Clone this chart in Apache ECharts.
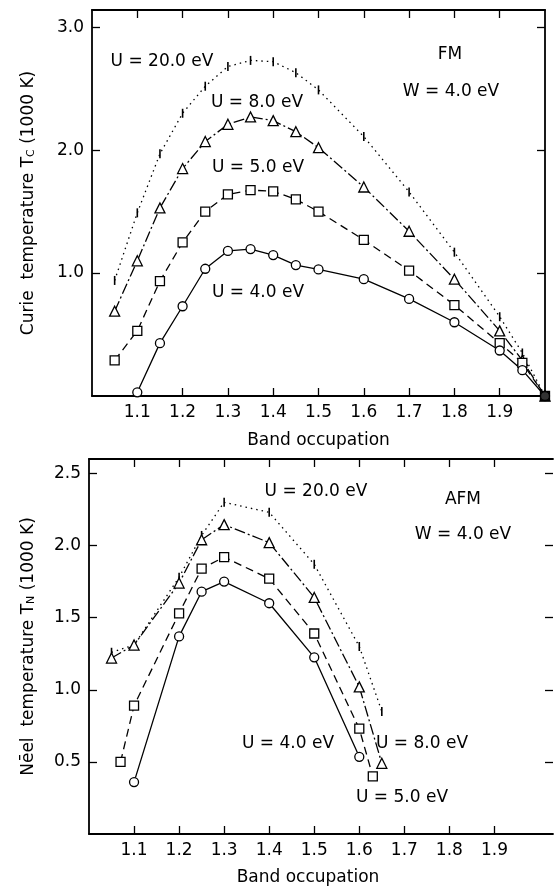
<!DOCTYPE html>
<html><head><meta charset="utf-8">
<script src="https://cdn.jsdelivr.net/npm/echarts@6/dist/echarts.min.js"></script>
<style>html,body{margin:0;padding:0;background:#fff}#c{width:556px;height:888px}</style>
</head><body><div id="c"></div>
<script>
// ---- tick labels ----
const xTickValues = [1.1, 1.2, 1.3, 1.4, 1.5, 1.6, 1.7, 1.8, 1.9];
const fmYTicks = [1.0, 2.0, 3.0];
const afmYTicks = [0.5, 1.0, 1.5, 2.0, 2.5];

// ---- FM (Curie temperature, 1000 K) ----
const fmX_U4 = [1.1, 1.15, 1.2, 1.25, 1.3, 1.35, 1.4, 1.45, 1.5, 1.6, 1.7, 1.8, 1.9, 1.95, 2.0];
const fmY_U4 = [0.03, 0.43, 0.73, 1.035, 1.18, 1.195, 1.146, 1.065, 1.03, 0.95, 0.79, 0.60, 0.37, 0.21, 0.0];
const fmX = [1.05, 1.1, 1.15, 1.2, 1.25, 1.3, 1.35, 1.4, 1.45, 1.5, 1.6, 1.7, 1.8, 1.9, 1.95, 2.0];
const fmY_U5 = [0.29, 0.53, 0.935, 1.25, 1.50, 1.64, 1.675, 1.665, 1.60, 1.50, 1.27, 1.02, 0.74, 0.43, 0.27, 0.0];
const fmY_U8 = [0.69, 1.10, 1.53, 1.85, 2.07, 2.21, 2.27, 2.24, 2.15, 2.02, 1.70, 1.34, 0.95, 0.53, 0.29, 0.0];
const fmY_U20 = [0.94, 1.49, 1.97, 2.30, 2.52, 2.68, 2.73, 2.72, 2.63, 2.49, 2.11, 1.66, 1.17, 0.645, 0.35, 0.0];
const fmEndX = [2.0];
const fmEndY = [0.0];

// ---- AFM (Neel temperature, 1000 K) ----
const afmX_U4 = [1.1, 1.2, 1.25, 1.3, 1.4, 1.5, 1.6];
const afmY_U4 = [0.36, 1.37, 1.68, 1.75, 1.60, 1.225, 0.535];
const afmX_U5 = [1.07, 1.1, 1.2, 1.25, 1.3, 1.4, 1.5, 1.6, 1.63];
const afmY_U5 = [0.50, 0.89, 1.53, 1.84, 1.92, 1.77, 1.39, 0.73, 0.40];
const afmX_U8 = [1.05, 1.1, 1.2, 1.25, 1.3, 1.4, 1.5, 1.6, 1.65];
const afmY_U8 = [1.22, 1.31, 1.74, 2.04, 2.145, 2.02, 1.64, 1.02, 0.49];
const afmX_U20 = [1.05, 1.1, 1.2, 1.25, 1.3, 1.4, 1.5, 1.6, 1.65];
const afmY_U20 = [1.26, 1.31, 1.78, 2.07, 2.30, 2.23, 1.87, 1.30, 0.85];

const FONT = 'DejaVu Sans';
const zip = (xs, ys) => xs.map((x, i) => [x, ys[i]]);
const BAR = 'path://M0,0L1,0L1,10L0,10Z';

function axisX(gridIndex, min, max, pos, labels, axisLineShow, name) {
  return {
    type: 'value', gridIndex, min, max, position: pos,
    name: name || '', nameLocation: 'middle', nameGap: 36,
    nameTextStyle: { fontFamily: FONT, fontSize: 17, color: '#000' },
    axisLine: { show: axisLineShow, onZero: false, lineStyle: { color: '#000', width: 1.8 } },
    axisTick: { show: true, inside: true, length: 8, customValues: xTickValues, lineStyle: { color: '#000', width: 1.3 } },
    axisLabel: { show: labels, customValues: xTickValues, margin: 8, fontFamily: FONT, fontSize: 17, color: '#000',
                 formatter: v => v.toFixed(1) },
    splitLine: { show: false }
  };
}
function axisY(gridIndex, min, max, pos, ticks, labels, axisLineShow, name, rich) {
  return {
    type: 'value', gridIndex, min, max, position: pos,
    name: name || '', nameLocation: 'middle', nameRotate: 90, nameGap: 52,
    nameTextStyle: { fontFamily: FONT, fontSize: 17, color: '#000', rich: rich },
    axisLine: { show: axisLineShow, onZero: false, lineStyle: { color: '#000', width: 1.8 } },
    axisTick: { show: true, inside: true, length: 8, customValues: ticks, lineStyle: { color: '#000', width: 1.3 } },
    axisLabel: { show: labels, customValues: ticks, margin: 8, fontFamily: FONT, fontSize: 17, color: '#000',
                 formatter: v => v.toFixed(1) },
    splitLine: { show: false }
  };
}
const subRich = { sub: { fontFamily: FONT, fontSize: 11, color: '#000', padding: [0, 0, 0, 0], verticalAlign: 'bottom' } };

function lineSeries(xi, yi, data, symbol, size, dash, filled) {
  return {
    type: 'line', xAxisIndex: xi, yAxisIndex: yi, data, symbol, symbolSize: size,
    showAllSymbol: true, clip: false, animation: false,
    lineStyle: { color: '#000', width: 1.3, type: dash },
    itemStyle: filled ? { color: '#000', borderColor: '#000', borderWidth: 0 }
                      : { color: '#fff', borderColor: '#000', borderWidth: 1.3 },
    z: 3
  };
}

const chart = echarts.init(document.getElementById('c'), null, { renderer: 'canvas' });
const txt = (x, y, s, fs) => ({ type: 'text', x, y, style: { text: s, fontFamily: FONT, fontSize: fs || 17, fill: '#000', align: 'center', verticalAlign: 'middle' } });

chart.setOption({
  backgroundColor: '#fff',
  animation: false,
  grid: [
    { left: 92, top: 10, width: 453, height: 386, show: false },
    { left: 89, top: 459, width: 464, height: 375, show: false }
  ],
  xAxis: [
    axisX(0, 1.0, 2.0, 'bottom', true, true, 'Band occupation'),
    axisX(0, 1.0, 2.0, 'top', false, true),
    Object.assign(axisX(1, 1.0, 2.03, 'bottom', true, true, 'Band occupation'),
      { nameGap: 35, nameTextStyle: { fontFamily: FONT, fontSize: 17, color: '#000', padding: [0, 26, 0, 0] } }),
    axisX(1, 1.0, 2.03, 'top', false, true)
  ],
  yAxis: [
    Object.assign(axisY(0, 0, 3.14, 'left', fmYTicks, true, true, 'Curie  temperature T{sub|C} (1000 K)', subRich), { nameGap: 55 }),
    axisY(0, 0, 3.14, 'right', fmYTicks, false, true),
    axisY(1, 0, 2.6, 'left', afmYTicks, true, true, 'Nēel  temperature T{sub|N} (1000 K)', subRich),
    axisY(1, 0, 2.6, 'right', afmYTicks, false, false)
  ],
  series: [
    lineSeries(0, 0, zip(fmX, fmY_U20), BAR, [1.6, 9], [1.5, 4], true),
    lineSeries(0, 0, zip(fmX, fmY_U8), 'triangle', 10, [11, 3, 2, 3], false),
    lineSeries(0, 0, zip(fmX, fmY_U5), 'rect', 9, [8, 5], false),
    lineSeries(0, 0, zip(fmX_U4, fmY_U4), 'circle', 9, 'solid', false),
    { type: 'scatter', xAxisIndex: 0, yAxisIndex: 0, data: zip(fmEndX, fmEndY), symbol: 'rect', symbolSize: 9,
      clip: false, itemStyle: { color: '#000' }, z: 5 },
    lineSeries(2, 2, zip(afmX_U20, afmY_U20), BAR, [1.6, 9], [1.5, 4], true),
    lineSeries(2, 2, zip(afmX_U8, afmY_U8), 'triangle', 10, [11, 3, 2, 3], false),
    lineSeries(2, 2, zip(afmX_U5, afmY_U5), 'rect', 9, [8, 5], false),
    lineSeries(2, 2, zip(afmX_U4, afmY_U4), 'circle', 9, 'solid', false)
  ],
  graphic: [
    txt(162, 62, 'U = 20.0 eV'),
    txt(257, 103, 'U = 8.0 eV'),
    txt(258, 168, 'U = 5.0 eV'),
    txt(258, 293, 'U = 4.0 eV'),
    txt(450, 55, 'FM'),
    txt(451, 92, 'W = 4.0 eV'),
    txt(316, 492, 'U = 20.0 eV'),
    txt(463, 500, 'AFM'),
    txt(463, 535, 'W = 4.0 eV'),
    txt(288, 744, 'U = 4.0 eV'),
    txt(422, 744, 'U = 8.0 eV'),
    txt(402, 798, 'U = 5.0 eV')
  ]
});
</script></body></html>
